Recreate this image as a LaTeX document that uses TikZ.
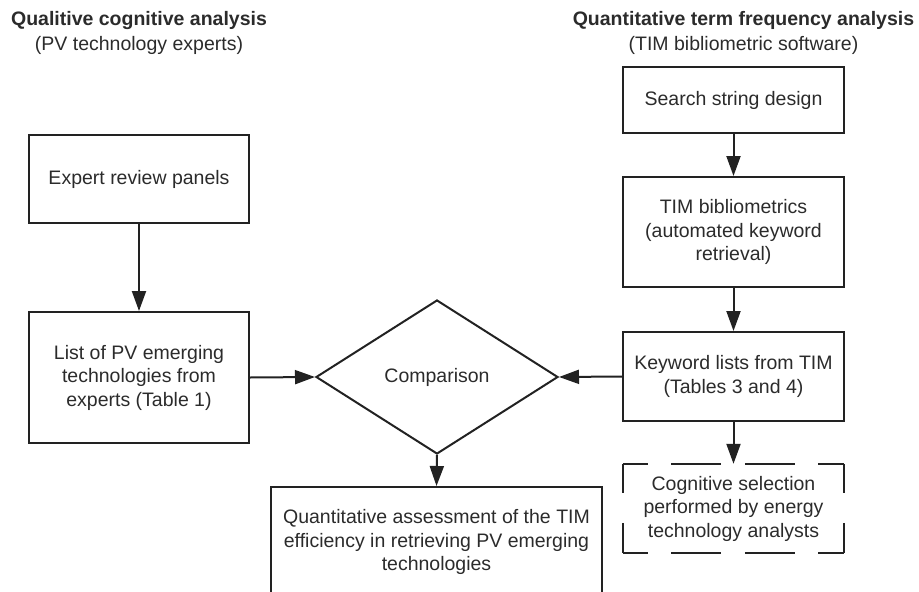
\documentclass[tikz,border=0pt]{standalone}
\usepackage{fontspec}
\setmainfont{Liberation Sans}
\usetikzlibrary{arrows.meta,shapes.geometric}
\definecolor{ink}{HTML}{222222}
\definecolor{txt}{HTML}{2B2B2B}
\begin{document}
\begin{tikzpicture}[x=1pt,y=-1pt,
  every node/.style={font=\fontsize{19.5}{23.5}\selectfont, text=txt},
  box/.style={draw=ink, line width=2pt, rectangle, align=center, inner sep=0pt},
  nobox/.style={draw=none, rectangle, align=center, inner sep=0pt},
  dec/.style={draw=ink, line width=2pt, diamond, inner sep=0pt, minimum width=242pt, minimum height=154pt},
  conn/.style={draw=ink, line width=2pt, -{Triangle[length=20pt,width=14pt]}},
  hsides/.style={draw=ink, line width=2pt, dash pattern=on 50pt off 23.5pt, dash phase=25pt},
  vsides/.style={draw=ink, line width=2pt, dash pattern=on 58pt off 30pt, dash phase=29pt},
  heading/.style={align=center, font=\fontsize{19.5}{25}\selectfont}
]
\clip (0,0) rectangle (919,592);
\useasboundingbox (0,0) rectangle (919,592);

% headings
\node[heading] (hleft) at (139,32.5) {\textbf{Qualitive cognitive analysis}\\(PV technology experts)};
\node[heading] (hright) at (743.5,32.5) {\textbf{Quantitative term frequency analysis}\\(TIM bibliometric software)};

% left column
\node[box, minimum width=220pt, minimum height=88pt] (expert) at (139,179) {Expert review panels};
\node[box, minimum width=220pt, minimum height=131pt] (list) at (139,377.5) {List of PV emerging\\technologies from\\experts (Table 1)};

% centre
\node[dec] (cmp) at (437,377) {Comparison};
\node[box, minimum width=331pt, minimum height=110pt] (assess) at (436.5,542) {Quantitative assessment of the TIM\\efficiency in retrieving PV emerging\\technologies};

% right column
\node[box, minimum width=221pt, minimum height=66pt] (search) at (733.5,100) {Search string design};
\node[box, minimum width=221pt, minimum height=110pt] (tim) at (733.5,232) {TIM bibliometrics\\(automated keyword\\retrieval)};
\node[box, minimum width=221pt, minimum height=89pt] (kw) at (733.5,376.5) {Keyword lists from TIM\\(Tables 3 and 4)};
\node[nobox, minimum width=221pt, minimum height=89pt] (cog) at (733.5,508.5) {Cognitive selection\\performed by energy\\technology analysts};

% dashed border of cog
\draw[hsides] (cog.north west) -- (cog.north east);
\draw[hsides] (cog.south west) -- (cog.south east);
\draw[vsides] (cog.north west) -- (cog.south west);
\draw[vsides] (cog.north east) -- (cog.south east);

% connectors
\draw[conn] (expert.south) -- (list.north);
\draw[conn] (list.east) -- (cmp.west);
\draw[conn] (kw.west) -- (cmp.east);
\draw[conn] (cmp.south) -- (assess.north);
\draw[conn] (search.south) -- (tim.north);
\draw[conn] (tim.south) -- (kw.north);
\draw[conn] (kw.south) -- (cog.north);
\end{tikzpicture}
\end{document}
